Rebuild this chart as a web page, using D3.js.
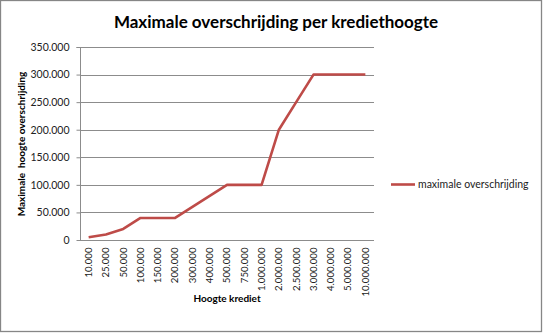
<!DOCTYPE html>
<html><head><meta charset="utf-8">
<script src="https://cdn.jsdelivr.net/npm/d3@7"></script>
<style>body{margin:0;background:#fff}svg{display:block}</style>
</head><body><svg id="c" width="543" height="333"></svg>
<script>
const categories = ["10.000","25.000","50.000","100.000","150.000","200.000","300.000","400.000","500.000","750.000","1.000.000","2.000.000","2.500.000","3.000.000","4.000.000","5.000.000","10.000.000"];
const values = [5000,10000,20000,40000,40000,40000,60000,80000,100000,100000,100000,200000,250000,300000,300000,300000,300000];
const yTicks = [0,50000,100000,150000,200000,250000,300000,350000];
const seriesName = "maximale overschrijding";
const title = "Maximale overschrijding per krediethoogte";
const yTitle = "Maximale  hoogte overschrijding";
const xTitle = "Hoogte krediet";

const svg = d3.select("#c");
const font = "Lato, 'Open Sans', sans-serif";
svg.append("rect").attr("x",0.5).attr("y",0.5).attr("width",541).attr("height",331)
  .attr("fill","#fff").attr("stroke","#868686").attr("stroke-width",1.3);

const L=80, R=374, T=47, B=240;
const x = d3.scaleBand().domain(categories).range([L,R]);
const y = d3.scaleLinear().domain([0,350000]).range([B,T]);
const fmt = v => d3.format(",")(v).replace(/,/g,".");

// grid
svg.append("g").selectAll("line").data(yTicks.filter(d=>d>0)).join("line")
  .attr("x1",L).attr("x2",R).attr("y1",d=>Math.round(y(d))+0.5).attr("y2",d=>Math.round(y(d))+0.5)
  .attr("stroke","#8c8c8c").attr("stroke-width",1);

// y axis
const ya = svg.append("g").attr("transform",`translate(${L+0.5},0)`)
  .call(d3.axisLeft(y).tickValues(yTicks).tickFormat(fmt).tickSize(4).tickPadding(7));
ya.select(".domain").attr("stroke","#8c8c8c").attr("d",`M-4,${T+0.5}H0V${B+0.5}`);
ya.selectAll(".tick line").attr("stroke","#8c8c8c");
ya.selectAll(".tick text").attr("font-family",font).attr("font-size",10.5).attr("fill","#222");

// x axis
const xa = svg.append("g").attr("transform",`translate(0,${B+0.5})`)
  .call(d3.axisBottom(x).tickSize(0).tickPadding(0));
xa.select(".domain").attr("stroke","#8c8c8c").attr("d",`M${L},0H${R}`);
xa.selectAll(".tick text").attr("font-family",font).attr("font-size",9.6).attr("fill","#222")
  .attr("transform","rotate(-90)").attr("text-anchor","end").attr("x",-7).attr("y",0).attr("dy","0.35em");

// line
svg.append("path").datum(values)
  .attr("d", d3.line().x((d,i)=>x(categories[i])+x.bandwidth()/2).y(d=>y(d)))
  .attr("fill","none").attr("stroke","#be4b48").attr("stroke-width",2.6).attr("stroke-linejoin","round");

// titles
svg.append("text").attr("x",276).attr("y",28).attr("text-anchor","middle")
  .attr("font-family",font).attr("font-weight","bold").attr("font-size",17).attr("fill","#000").text(title);
svg.append("text").attr("transform","translate(25,144) rotate(-90)").attr("text-anchor","middle")
  .attr("font-family",font).attr("font-weight","bold").attr("font-size",10).attr("fill","#000")
  .attr("xml:space","preserve").style("white-space","pre").text(yTitle);
svg.append("text").attr("x",227).attr("y",302).attr("text-anchor","middle")
  .attr("font-family",font).attr("font-weight","bold").attr("font-size",10).attr("fill","#000").text(xTitle);

// legend
svg.append("line").attr("x1",391).attr("x2",415).attr("y1",184.5).attr("y2",184.5)
  .attr("stroke","#be4b48").attr("stroke-width",2.6);
svg.append("text").attr("x",418).attr("y",188).attr("font-family",font).attr("font-size",10.5)
  .attr("fill","#222").text(seriesName);
</script></body></html>
